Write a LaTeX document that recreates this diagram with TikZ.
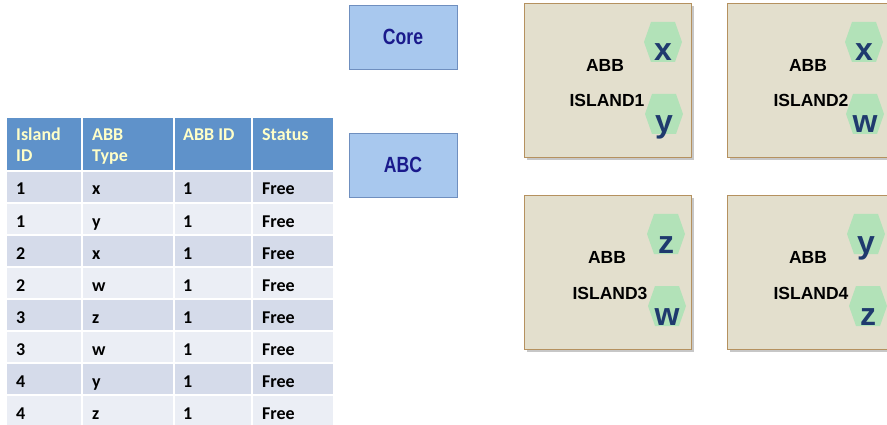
\documentclass[tikz,border=0pt]{standalone}
\usepackage{fontspec}
\setmainfont{Liberation Sans}
\newfontfamily\tabfont{Carlito}
\usetikzlibrary{shadows}
\definecolor{headblue}{HTML}{5F92CA}
\definecolor{headtext}{HTML}{FFFFC8}
\definecolor{rowdark}{HTML}{D5DBEA}
\definecolor{rowlight}{HTML}{EBEEF5}
\definecolor{boxblue}{HTML}{A8C8EE}
\definecolor{boxedge}{HTML}{6F8FBF}
\definecolor{boxtext}{HTML}{1A1A8C}
\definecolor{islandfill}{HTML}{E3DFCD}
\definecolor{islandedge}{HTML}{B5915F}
\definecolor{hexgreen}{HTML}{B2E2B8}
\definecolor{hexletter}{HTML}{1F3A6E}
\begin{document}
\begin{tikzpicture}[x=1pt,y=-1pt,
  headtxt/.style={anchor=base west,inner sep=0pt,align=left,text=headtext,
    font=\tabfont\bfseries\fontsize{18}{21}\selectfont},
  celltxt/.style={anchor=base west,inner sep=0pt,text=black,
    font=\tabfont\bfseries\fontsize{18}{21}\selectfont},
  modbox/.style={draw=boxedge,fill=boxblue,line width=0.8pt,minimum width=108pt,
    minimum height=64pt,inner sep=0pt,text=boxtext,
    font=\bfseries\fontsize{22}{26}\selectfont},
  island/.style={draw=islandedge,fill=islandfill,line width=0.9pt,anchor=north west,
    minimum width=167pt,minimum height=154pt,inner sep=0pt,
    drop shadow={shadow xshift=3pt,shadow yshift=-3pt,fill=black!22,opacity=1}},
  islandtxt/.style={inner sep=0pt,font=\bfseries\fontsize{17.5}{20}\selectfont},
  hexletter/.style={anchor=base,inner sep=0pt,text=hexletter,
    font=\bfseries\fontsize{32}{34}\selectfont},
  hexa/.pic={\fill[hexgreen] (-19,0) -- (-12,-20) -- (12,-20) -- (19,0)
    -- (12,20) -- (-12,20) -- cycle;}
]
\clip (0,0) rectangle (887,425);
\fill[white] (0,0) rectangle (887,425);

% ---------------- table ----------------
% header row (two-line labels are anchored on their last baseline)
\foreach \xa/\xb in {7/81,83/173,175/251,253/333}
  \fill[headblue] (\xa,118) rectangle (\xb,170);
\node[headtxt] (h1) at (16,162) {Island\\ID};
\node[headtxt] (h2) at (92,162) {ABB\\Type};
\node[headtxt] (h3) at (183,141) {ABB ID};
\node[headtxt] (h4) at (262,141) {Status};
% body rows
\foreach \k/\isl/\typ in {0/1/x,1/1/y,2/2/x,3/2/w,4/3/z,5/3/w,6/4/y,7/4/z}{
  \pgfmathsetmacro{\top}{172+32*\k}
  \pgfmathsetmacro{\bot}{\top+30}
  \pgfmathsetmacro{\base}{195+32*\k}
  \ifodd\k \def\rc{rowlight}\else\def\rc{rowdark}\fi
  \foreach \xa/\xb in {7/81,83/173,175/251,253/333}
    \fill[\rc] (\xa,\top) rectangle (\xb,\bot);
  \node[celltxt] (c\k-1) at (16,\base) {\isl};
  \node[celltxt] (c\k-2) at (92,\base) {\typ};
  \node[celltxt] (c\k-3) at (183,\base) {1};
  \node[celltxt] (c\k-4) at (262,\base) {Free};
}

% ---------------- module boxes ----------------
\node[modbox] (core) at (403,37) {\scalebox{0.8}[1]{Core}};
\node[modbox] (abc) at (403,165) {\scalebox{0.8}[1]{ABC}};

% ---------------- islands ----------------
\node[island] (isl1) at (524,3) {};
\node[island] (isl2) at (727,3) {};
\node[island] (isl3) at (524,195) {};
\node[island] (isl4) at (727,195) {};

\node[islandtxt] (abb1) at (605,65) {ABB};
\node[islandtxt] (name1) at (607,100) {ISLAND1};
\node[islandtxt] (abb2) at (808,65) {ABB};
\node[islandtxt] (name2) at (811,100) {ISLAND2};
\node[islandtxt] (abb3) at (607,257) {ABB};
\node[islandtxt] (name3) at (610,293) {ISLAND3};
\node[islandtxt] (abb4) at (808,257) {ABB};
\node[islandtxt] (name4) at (811,293) {ISLAND4};

% ABB type hexagons with their letters
\foreach \n/\hx/\hy/\l in {a/663/42/x,b/664/114/y,c/864/42/x,d/865/114/w,
                           e/666/234/z,f/667/306/w,g/866/234/y,h/868/306/z}{
  \pic at (\hx,\hy) {hexa};
  \node[hexletter] (hex-\n) at (\hx,\hy+19) {\l};
}
\end{tikzpicture}
\end{document}
